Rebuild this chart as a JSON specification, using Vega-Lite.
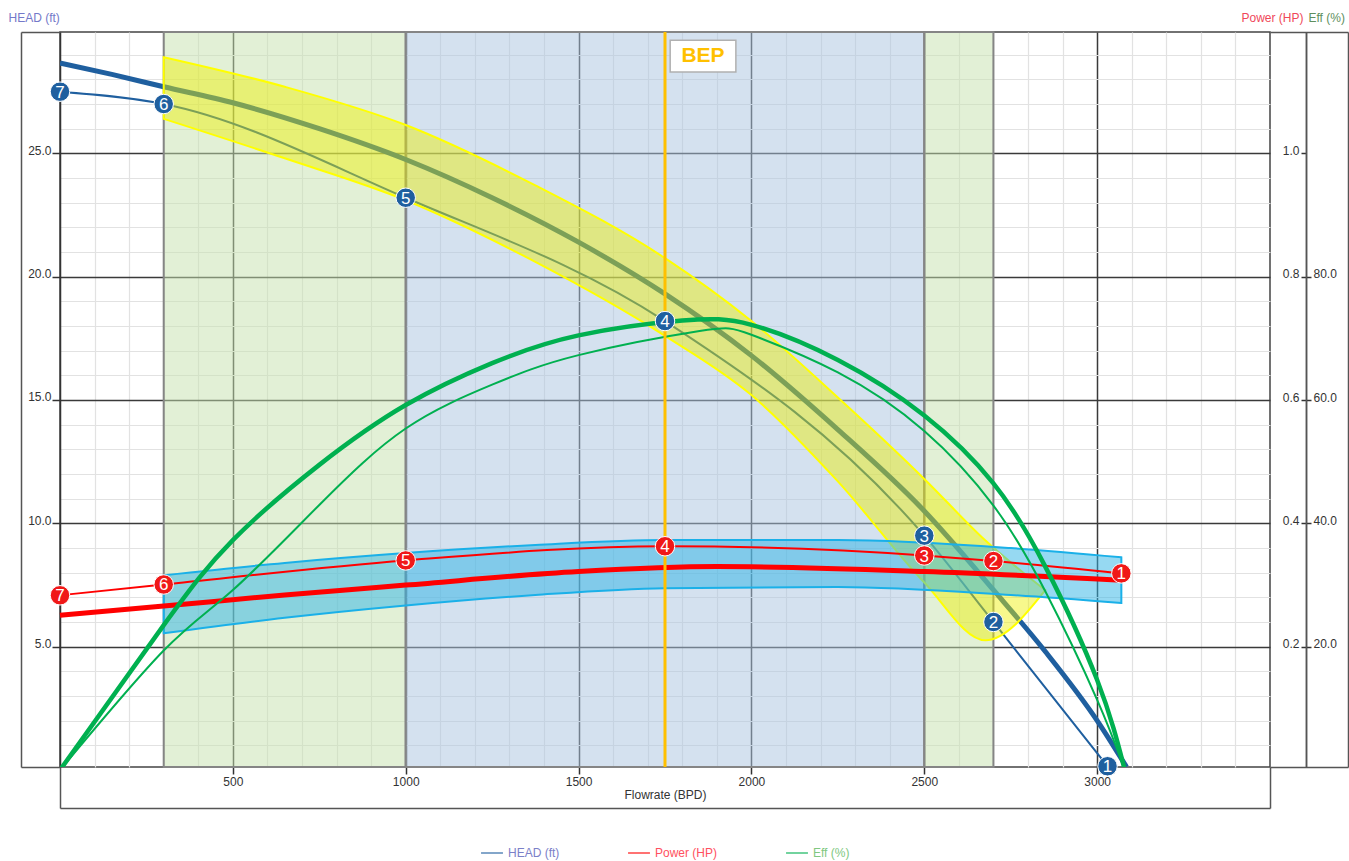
{
"$schema": "https://vega.github.io/schema/vega-lite/v6.json",
"width": 1210, "height": 735,
"autosize": {"type": "none"},
"padding": {"left": 60, "top": 32, "right": 79, "bottom": 94},
"background": "white",
"config": {
  "font": "Liberation Sans",
  "view": {"stroke": "#444", "strokeWidth": 1.5},
  "axis": {"labelFont": "Liberation Sans", "labelFontSize": 12, "labelColor": "#333", "titleFont": "Liberation Sans", "titleFontSize": 12, "titleFontWeight": "normal", "tickColor": "#333", "domainColor": "#333"}
},
"resolve": {"scale": {"y": "independent"}, "axis": {"x": "independent", "y": "independent"}},
"layer": [
{
  "data": {"values": [{"a": 300, "b": 1000, "zone": "g"}, {"a": 1000, "b": 2500, "zone": "b"}, {"a": 2500, "b": 2700, "zone": "g"}]},
  "mark": {"type": "rect", "fillOpacity": 0.5, "stroke": "#858585", "strokeWidth": 2},
  "encoding": {
    "x": {"field": "a", "type": "quantitative", "scale": {"domain": [0, 3500], "nice": false, "zero": false},
      "axis": {"orient": "bottom", "values": [100,200,300,400,600,700,800,900,1100,1200,1300,1400,1600,1700,1800,1900,2100,2200,2300,2400,2600,2700,2800,2900,3100,3200,3300,3400], "grid": true, "gridColor": "#e2e2e2", "gridWidth": 1.2, "labels": false, "ticks": false, "domain": false, "title": null}},
    "x2": {"field": "b"},
    "fill": {"field": "zone", "type": "nominal", "scale": {"domain": ["g", "b"], "range": ["#C5E1AD", "#A9C3DF"]}, "legend": null}
  }
},
{
  "data": {"values": [{"q":0,"v":28.66},{"q":150,"v":28.2},{"q":300,"v":27.7},{"q":500,"v":27.05},{"q":750,"v":26.0},{"q":1000,"v":24.75},{"q":1250,"v":23.2},{"q":1500,"v":21.4},{"q":1750,"v":19.3},{"q":2000,"v":16.8},{"q":2250,"v":13.8},{"q":2500,"v":10.5},{"q":2700,"v":7.3},{"q":2850,"v":4.8},{"q":3000,"v":2.0},{"q":3085,"v":0.12}]},
  "mark": {"type": "line", "strokeWidth": 5, "interpolate": "monotone", "clip": true},
  "encoding": {
    "x": {"field": "q", "type": "quantitative", "scale": {"domain": [0, 3500], "nice": false, "zero": false},
      "axis": {"orient": "bottom", "values": [500,1000,1500,2000,2500,3000], "format": "d", "grid": true, "gridColor": "#3a3a3a", "gridWidth": 1.5, "tickSize": 7, "tickWidth": 1.5, "labelPadding": 2, "domain": false, "title": "Flowrate (BPD)", "titlePadding": 2, "titleColor": "#333"}},
    "y": {"field": "v", "type": "quantitative", "scale": {"domain": [0.12, 29.92], "nice": false, "zero": false},
      "axis": {"orient": "left", "values": [5,10,15,20,25], "format": ".1f", "grid": true, "gridColor": "#3a3a3a", "gridWidth": 1.5, "tickSize": 8, "tickWidth": 1.5, "labelPadding": 1, "labelBaseline": "middle", "labelOffset": -3, "domain": true, "domainColor": "#333", "domainWidth": 1.5, "title": "HEAD (ft)", "titleX": -52, "titleY": -15, "titleAngle": 0, "titleAlign": "left", "titleBaseline": "middle", "titleColor": "#7479C9"}},
    "color": {"datum": "HEAD (ft)", "type": "nominal", "scale": {"domain": ["HEAD (ft)", "Power (HP)", "Eff (%)"], "range": ["#1F5F9F", "#FF0000", "#00B050"]},
      "legend": {"orient": "none", "legendX": 420, "legendY": 809, "direction": "horizontal", "title": null, "symbolType": "stroke", "symbolSize": 480, "symbolStrokeWidth": 2, "symbolOpacity": 0.55, "labelFontSize": 12, "labelFont": "Liberation Sans", "columnPadding": 64,
        "encode": {"labels": {"update": {"fill": {"signal": "datum.value === 'HEAD (ft)' ? '#7B80C8' : datum.value === 'Power (HP)' ? '#FF5060' : '#80C880'"}}},
                   "symbols": {"update": {"stroke": {"signal": "datum.value === 'HEAD (ft)' ? '#7B80C8' : datum.value === 'Power (HP)' ? '#FF5060' : '#80C880'"}}}}}}
  }
},
{
  "data": {"values": [{"q":0,"v":27.5},{"q":300,"v":27.0},{"q":1000,"v":23.2},{"q":1750,"v":18.2},{"q":2500,"v":9.5},{"q":2700,"v":6.0},{"q":3030,"v":0.15}]},
  "mark": {"type": "line", "strokeWidth": 2, "color": "#1F5F9F", "interpolate": "monotone", "clip": true},
  "encoding": {
    "x": {"field": "q", "type": "quantitative", "scale": {"domain": [0, 3500], "nice": false, "zero": false}, "axis": null},
    "y": {"field": "v", "type": "quantitative", "scale": {"domain": [0.12, 29.92], "nice": false, "zero": false},
      "axis": {"orient": "left", "values": [1,2,3,4,6,7,8,9,11,12,13,14,16,17,18,19,21,22,23,24,26,27,28,29], "grid": true, "gridColor": "#e2e2e2", "gridWidth": 1.2, "labels": false, "ticks": false, "domain": false, "title": null}}
  }
},
{
  "data": {"values": [{"q":300,"up":28.9,"lo":26.4},{"q":650,"up":27.7,"lo":24.8},{"q":1000,"up":26.15,"lo":23.1},{"q":1375,"up":23.7,"lo":20.6},{"q":1750,"up":20.75,"lo":17.6},{"q":2000,"up":18.2,"lo":15.2},{"q":2250,"up":15.1,"lo":11.7},{"q":2500,"up":11.8,"lo":7.6},{"q":2677,"up":9.3,"lo":5.26},{"q":2850,"up":7.29,"lo":7.29}]},
  "mark": {"type": "area", "color": "#EEF000", "fillOpacity": 0.45, "stroke": "#FFFF00", "strokeWidth": 2, "interpolate": "monotone"},
  "encoding": {
    "x": {"field": "q", "type": "quantitative", "scale": {"domain": [0, 3500], "nice": false, "zero": false}, "axis": null},
    "y": {"field": "up", "type": "quantitative", "scale": {"domain": [0.12, 29.92], "nice": false, "zero": false},
      "axis": {"orient": "left", "offset": 39, "values": [0.125, 29.915], "labels": false, "tickSize": -39, "tickColor": "#555", "tickWidth": 1.5, "domain": true, "domainColor": "#555", "domainWidth": 1.5, "grid": false, "title": null}},
    "y2": {"field": "lo"}
  }
},
{
  "data": {"values": [{"q":300,"pu":0.316,"pl":0.222},{"q":650,"pu":0.336,"pl":0.247},{"q":1000,"pu":0.352,"pl":0.267},{"q":1375,"pu":0.365,"pl":0.284},{"q":1750,"pu":0.373,"pl":0.295},{"q":2250,"pu":0.373,"pl":0.297},{"q":2750,"pu":0.36,"pl":0.284},{"q":3070,"pu":0.345,"pl":0.271}]},
  "mark": {"type": "area", "color": "#2EB3E5", "fillOpacity": 0.5, "stroke": "#1AB0E8", "strokeWidth": 2, "interpolate": "monotone"},
  "encoding": {
    "x": {"field": "q", "type": "quantitative", "scale": {"domain": [0, 3500], "nice": false, "zero": false}, "axis": null},
    "y": {"field": "pu", "type": "quantitative", "scale": {"domain": [0.005, 1.197], "nice": false, "zero": false},
      "axis": {"orient": "left", "offset": -1246, "values": [0.2,0.4,0.6,0.8,1.0], "format": ".1f", "tickSize": 5, "tickWidth": 1.5, "labelPadding": 2, "labelBaseline": "middle", "labelOffset": -3, "domain": true, "domainColor": "#555", "domainWidth": 1.5, "grid": false, "title": "Power (HP)", "titleX": -3, "titleY": -15, "titleAngle": 0, "titleAlign": "right", "titleBaseline": "middle", "titleColor": "#F0485A"}},
    "y2": {"field": "pl"}
  }
},
{
  "data": {"values": [{"q":0,"p":0.251},{"q":300,"p":0.266},{"q":650,"p":0.284},{"q":1000,"p":0.300},{"q":1500,"p":0.322},{"q":1900,"p":0.330},{"q":2500,"p":0.322},{"q":3070,"p":0.308}]},
  "mark": {"type": "line", "strokeWidth": 5, "interpolate": "monotone"},
  "encoding": {
    "x": {"field": "q", "type": "quantitative", "scale": {"domain": [0, 3500], "nice": false, "zero": false}, "axis": null},
    "y": {"field": "p", "type": "quantitative", "scale": {"domain": [0.005, 1.197], "nice": false, "zero": false}, "axis": null},
    "color": {"datum": "Power (HP)", "type": "nominal"}
  }
},
{
  "data": {"values": [{"q":0,"p":0.2835},{"q":300,"p":0.301},{"q":1000,"p":0.340},{"q":1750,"p":0.363},{"q":2500,"p":0.348},{"q":2700,"p":0.339},{"q":3070,"p":0.319}]},
  "mark": {"type": "line", "strokeWidth": 2, "color": "#FF0000", "interpolate": "monotone"},
  "encoding": {
    "x": {"field": "q", "type": "quantitative", "scale": {"domain": [0, 3500], "nice": false, "zero": false}, "axis": null},
    "y": {"field": "p", "type": "quantitative", "scale": {"domain": [0.005, 1.197], "nice": false, "zero": false}, "axis": null}
  }
},
{
  "data": {"values": [{"q":0,"e":0},{"q":300,"e":23.5},{"q":500,"e":37.3},{"q":750,"e":49.5},{"q":1000,"e":59.2},{"q":1250,"e":66},{"q":1500,"e":70.5},{"q":1800,"e":72.9},{"q":2000,"e":72.2},{"q":2250,"e":66.5},{"q":2500,"e":57.5},{"q":2700,"e":46.5},{"q":2850,"e":33},{"q":3000,"e":14.6},{"q":3080,"e":0}]},
  "mark": {"type": "line", "strokeWidth": 4.5, "interpolate": "natural", "clip": true},
  "encoding": {
    "x": {"field": "q", "type": "quantitative", "scale": {"domain": [0, 3500], "nice": false, "zero": false}, "axis": null},
    "y": {"field": "e", "type": "quantitative", "scale": {"domain": [0.5, 119.7], "nice": false, "zero": false},
      "axis": {"orient": "right", "offset": 36, "values": [20,40,60,80], "format": ".1f", "tickSize": 5, "tickWidth": 1.5, "labelPadding": 2, "labelBaseline": "middle", "labelOffset": -3, "domain": true, "domainColor": "#555", "domainWidth": 1.5, "grid": false, "title": "Eff (%)", "titleX": 2, "titleY": -15, "titleAngle": 0, "titleAlign": "left", "titleBaseline": "middle", "titleColor": "#5E8F5E"}},
    "color": {"datum": "Eff (%)", "type": "nominal"}
  }
},
{
  "data": {"values": [{"q":0,"e":0},{"q":300,"e":19.4},{"q":500,"e":29.2},{"q":750,"e":43},{"q":1000,"e":55.4},{"q":1250,"e":62.5},{"q":1500,"e":67.3},{"q":1850,"e":71.2},{"q":2000,"e":70.6},{"q":2250,"e":64.5},{"q":2500,"e":55.0},{"q":2700,"e":42.9},{"q":2850,"e":29},{"q":3000,"e":11.4},{"q":3080,"e":0}]},
  "mark": {"type": "line", "strokeWidth": 2, "color": "#00B050", "interpolate": "natural", "clip": true},
  "encoding": {
    "x": {"field": "q", "type": "quantitative", "scale": {"domain": [0, 3500], "nice": false, "zero": false}, "axis": null},
    "y": {"field": "e", "type": "quantitative", "scale": {"domain": [0.5, 119.7], "nice": false, "zero": false},
      "axis": {"orient": "right", "offset": 78, "values": [0.5, 119.7], "labels": false, "tickSize": -78, "tickColor": "#555", "tickWidth": 1.5, "domain": true, "domainColor": "#555", "domainWidth": 1.5, "grid": false, "title": null}}
  }
},
{
  "data": {"values": [{"q": 1750}]},
  "mark": {"type": "rule", "color": "#FFC000", "strokeWidth": 3},
  "encoding": {
    "x": {"field": "q", "type": "quantitative", "scale": {"domain": [0, 3500], "nice": false, "zero": false},
      "axis": {"orient": "bottom", "offset": 41, "values": [0, 3500], "labels": false, "tickSize": -41, "tickColor": "#555", "tickWidth": 1.5, "domain": true, "domainColor": "#555", "domainWidth": 1.5, "grid": false, "title": null}}
  }
},
{
  "data": {"values": [{"a": 1765, "b": 1955, "t": 29.59, "u": 28.3, "label": "BEP", "m": 1860, "c": 28.95}]},
  "layer": [
    {"mark": {"type": "rect", "fill": "white", "stroke": "#b0b0b0", "strokeWidth": 1.5},
     "encoding": {
       "x": {"field": "a", "type": "quantitative", "scale": {"domain": [0, 3500], "nice": false, "zero": false}, "axis": null},
       "x2": {"field": "b"},
       "y": {"field": "t", "type": "quantitative", "scale": {"domain": [0.12, 29.92], "nice": false, "zero": false}, "axis": null},
       "y2": {"field": "u"}}},
    {"mark": {"type": "text", "color": "#FFC000", "fontSize": 21, "fontWeight": "bold", "font": "Liberation Sans", "align": "center", "baseline": "middle"},
     "encoding": {
       "x": {"field": "m", "type": "quantitative", "scale": {"domain": [0, 3500], "nice": false, "zero": false}, "axis": null},
       "y": {"field": "c", "type": "quantitative", "scale": {"domain": [0.12, 29.92], "nice": false, "zero": false}, "axis": null},
       "text": {"field": "label"}}}
  ]
},
{
  "data": {"values": [{"q":0,"v":27.5,"n":"7"},{"q":300,"v":27.0,"n":"6"},{"q":1000,"v":23.2,"n":"5"},{"q":1750,"v":18.2,"n":"4"},{"q":2500,"v":9.5,"n":"3"},{"q":2700,"v":6.0,"n":"2"},{"q":3030,"v":0.15,"n":"1"}]},
  "layer": [
    {"mark": {"type": "point", "filled": true, "shape": "circle", "size": 380, "color": "#1F5F9F", "stroke": "white", "strokeWidth": 1, "opacity": 1},
     "encoding": {
       "x": {"field": "q", "type": "quantitative", "scale": {"domain": [0, 3500], "nice": false, "zero": false}, "axis": null},
       "y": {"field": "v", "type": "quantitative", "scale": {"domain": [0.12, 29.92], "nice": false, "zero": false}, "axis": null}}},
    {"mark": {"type": "text", "color": "white", "fontSize": 17, "fontWeight": "normal", "font": "Liberation Sans", "align": "center", "baseline": "middle", "dy": 1},
     "encoding": {
       "x": {"field": "q", "type": "quantitative", "scale": {"domain": [0, 3500], "nice": false, "zero": false}, "axis": null},
       "y": {"field": "v", "type": "quantitative", "scale": {"domain": [0.12, 29.92], "nice": false, "zero": false}, "axis": null},
       "text": {"field": "n"}}}
  ]
},
{
  "data": {"values": [{"q":0,"p":0.2835,"n":"7"},{"q":300,"p":0.301,"n":"6"},{"q":1000,"p":0.340,"n":"5"},{"q":1750,"p":0.363,"n":"4"},{"q":2500,"p":0.348,"n":"3"},{"q":2700,"p":0.339,"n":"2"},{"q":3070,"p":0.319,"n":"1"}]},
  "layer": [
    {"mark": {"type": "point", "filled": true, "shape": "circle", "size": 380, "color": "#F01818", "stroke": "white", "strokeWidth": 1, "opacity": 1},
     "encoding": {
       "x": {"field": "q", "type": "quantitative", "scale": {"domain": [0, 3500], "nice": false, "zero": false}, "axis": null},
       "y": {"field": "p", "type": "quantitative", "scale": {"domain": [0.005, 1.197], "nice": false, "zero": false}, "axis": null}}},
    {"mark": {"type": "text", "color": "white", "fontSize": 17, "fontWeight": "normal", "font": "Liberation Sans", "align": "center", "baseline": "middle", "dy": 1},
     "encoding": {
       "x": {"field": "q", "type": "quantitative", "scale": {"domain": [0, 3500], "nice": false, "zero": false}, "axis": null},
       "y": {"field": "p", "type": "quantitative", "scale": {"domain": [0.005, 1.197], "nice": false, "zero": false}, "axis": null},
       "text": {"field": "n"}}}
  ]
}
]
}
